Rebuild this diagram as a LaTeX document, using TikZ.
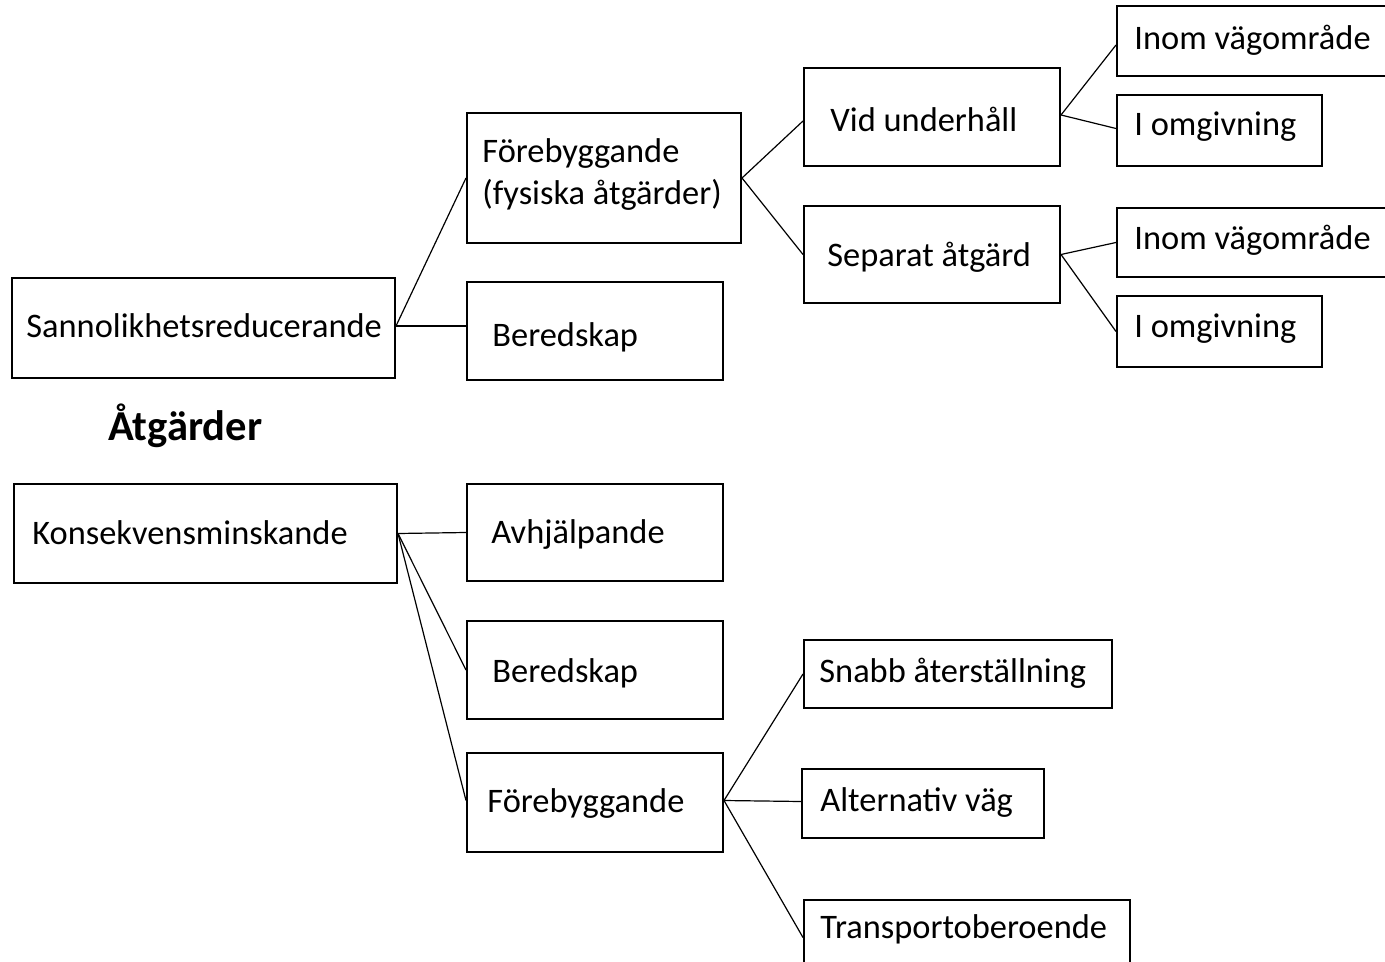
\documentclass[tikz,border=0pt]{standalone}
\usepackage{fontspec}
\setmainfont{Carlito}
\usetikzlibrary{fit}
\begin{document}
\begin{tikzpicture}[x=0.5pt,y=-0.5pt,
  box/.style={draw=black, line width=1pt, inner sep=0pt, fill=none},
  txt/.style={inner sep=0pt, anchor=base west, font=\fontsize{17.2pt}{20pt}\selectfont},
  ttl/.style={inner sep=0pt, anchor=base west, font=\fontsize{21.3pt}{24pt}\selectfont\bfseries},
  conn/.style={draw=black, line width=0.6pt}]
\useasboundingbox[fill=white] (0,0) rectangle (1385,962);
% boxes
\node[box, fit={(12,278) (395,378)}] (sann) {};
\node[box, fit={(467,113) (741,243)}] (fore1) {};
\node[box, fit={(467,282) (723,380)}] (ber1) {};
\node[box, fit={(804,68) (1060,166)}] (vid) {};
\node[box, fit={(804,206) (1060,303)}] (sep) {};
\node[box, fit={(1117,6) (1392,76)}] (inom1) {};
\node[box, fit={(1117,95) (1322,166)}] (omg1) {};
\node[box, fit={(1117,208) (1392,277)}] (inom2) {};
\node[box, fit={(1117,296) (1322,367)}] (omg2) {};
\node[box, fit={(14,484) (397,583)}] (kons) {};
\node[box, fit={(467,484) (723,581)}] (avh) {};
\node[box, fit={(467,621) (723,719)}] (ber2) {};
\node[box, fit={(467,753) (723,852)}] (fore2) {};
\node[box, fit={(804,640) (1112,708)}] (snabb) {};
\node[box, fit={(802,769) (1044,838)}] (alt) {};
\node[box, fit={(804,900) (1130,975)}] (trans) {};
% texts
\node[txt] (sann-t) at (26,337) {Sannolikhetsreducerande};
\node[txt] (fore1-t) at (482,163) {Förebyggande};
\node[txt] (fore1-u) at (482,205) {(fysiska åtgärder)};
\node[txt] (ber1-t) at (492,346) {Beredskap};
\node[txt] (vid-t) at (830,132) {Vid underhåll};
\node[txt] (sep-t) at (827,267) {Separat åtgärd};
\node[txt] (inom1-t) at (1134,50) {Inom vägområde};
\node[txt] (omg1-t) at (1134,136) {I omgivning};
\node[txt] (inom2-t) at (1134,250) {Inom vägområde};
\node[txt] (omg2-t) at (1134,337) {I omgivning};
\node[ttl] (title) at (108,440) {Åtgärder};
\node[txt] (kons-t) at (32,544) {Konsekvensminskande};
\node[txt] (avh-t) at (491,543) {Avhjälpande};
\node[txt] (ber2-t) at (492,682) {Beredskap};
\node[txt] (fore2-t) at (487,812) {Förebyggande};
\node[txt] (snabb-t) at (819,682) {Snabb återställning};
\node[txt] (alt-t) at (820,811) {Alternativ väg};
\node[txt] (trans-t) at (820,938) {Transportoberoende};
% connectors
\draw[conn] ([yshift=1pt]sann.east) -- (fore1.west);
\draw[conn] ([yshift=1pt]sann.east) -- ([yshift=2.5pt]ber1.west);
\draw[conn] (fore1.east) -- ([yshift=-2pt]vid.west);
\draw[conn] (fore1.east) -- (sep.west);
\draw[conn] ([yshift=1pt]vid.east) -- ([yshift=-2pt]inom1.west);
\draw[conn] ([yshift=1pt]vid.east) -- ([yshift=1pt]omg1.west);
\draw[conn] (sep.east) -- (inom2.west);
\draw[conn] (sep.east) -- (omg2.west);
\draw[conn] (kons.east) -- (avh.west);
\draw[conn] (kons.east) -- (ber2.west);
\draw[conn] (kons.east) -- ([yshift=1pt]fore2.west);
\draw[conn] ([yshift=1pt]fore2.east) -- (snabb.west);
\draw[conn] ([yshift=1pt]fore2.east) -- ([yshift=1pt]alt.west);
\draw[conn] ([yshift=1pt]fore2.east) -- (trans.west);
\end{tikzpicture}
\end{document}
